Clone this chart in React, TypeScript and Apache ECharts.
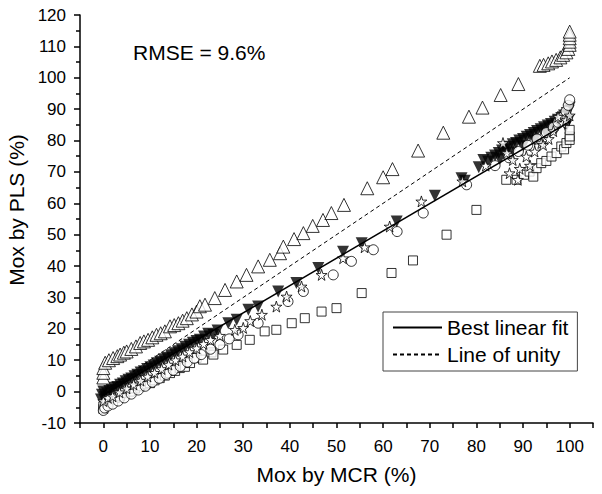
import React, { useEffect, useRef } from "react";
import * as echarts from "echarts";

// ---------- data ----------
const xRange = [-5, 105];
const yRange = [-10, 120];

const fitX = [0, 100];
const fitY = [-1, 86];
const unityX = [0, 100];
const unityY = [0, 100];

const triangleUp: number[][] = [
  [0, 4.5], [0, 6], [0, 7.5], [0.4, 9.2], [1.2, 10], [2.1, 10.7], [3, 11.3], [3.6, 11.8],
  [4.4, 12.4], [5, 12.8], [6, 13.6], [7, 14.4], [7.9, 15.5], [8.7, 16], [9.6, 16.5],
  [10.5, 17.3], [11.4, 18.1], [12.3, 18.6], [13.2, 19.2], [14.3, 20.8], [15.2, 21.2],
  [16.1, 21.8], [17, 22.6], [17.9, 23.4], [19, 24.6], [20, 25.5], [20.7, 27.2], [21.8, 27.7],
  [23.9, 29.8], [26.1, 32.4], [28.6, 35.1], [30.7, 37.2], [33.2, 39.9], [35.7, 42],
  [37.9, 44.1], [38.6, 46.2], [40.9, 48.6], [42.9, 50.5], [44.9, 52.8], [47.1, 54.7],
  [48.9, 56.9], [51.6, 59.5], [56.6, 64.8], [60, 68.3], [62, 70.9], [67.5, 76.8],
  [72.9, 82.5], [78.4, 87.6], [81.3, 90.5], [85.2, 94.5], [89, 98], [93.6, 103.8],
  [94.4, 104.1], [95.4, 104.6], [96.2, 105.2], [97.1, 105.7], [98, 106.5], [98.6, 107.3],
  [99.3, 108.1], [99.7, 109.2], [100, 110.5], [100, 111.5], [100, 112.6], [100, 113.7],
  [100, 114.7],
];

const triangleDownFilled: number[][] = [
  [-0.5, -2.5], [-0.3, -1], [0, 0], [0.3, -1.8], [0.8, -0.5], [1.3, 0.2], [1.8, 0.5],
  [2.4, 1.2], [3, 1.5], [3.6, 2.2], [4.2, 2.6], [4.8, 3.3], [5.4, 3.8], [6, 4.2],
  [6.7, 4.9], [7.3, 5.4], [8, 6.1], [8.7, 6.5], [9.4, 7.2], [10.1, 7.8], [10.8, 8.3],
  [11.5, 9], [12.2, 9.5], [13, 10.3], [13.7, 10.8], [14.5, 11.6], [15.3, 12.2], [16, 12.9],
  [16.8, 13.5], [17.6, 14.3], [18.4, 14.9], [19.2, 15.6], [20, 16.1], [20.7, 16.5],
  [21.6, 17.6], [22.5, 18.4], [23.6, 18.1], [24.5, 19.5], [26.8, 21.8], [28.6, 22.9],
  [31.1, 26.1], [33.2, 27.1], [37.5, 31.9], [41.4, 34.6], [46.1, 39.4], [51.4, 44.6],
  [55.4, 47.3], [62.9, 54.2], [71.1, 62.4], [76.8, 68], [77.5, 67.2], [80.5, 71.5],
  [81.5, 73.8], [82.5, 73.3], [83.2, 74.5], [84, 75.2], [84.8, 76], [85.5, 76.8],
  [86.2, 77.2], [87, 78], [87.8, 78.8], [88.5, 79.2], [89.2, 80], [90, 80.5], [90.8, 81.2],
  [91.5, 81.8], [92.3, 82.4], [93, 83], [93.8, 83.6], [94.5, 84.2], [95.3, 84.8], [96, 85.3],
  [96.8, 86], [97.5, 86.6], [98.2, 87.2], [98.8, 88], [99.4, 88.8], [99.8, 89.5], [100, 90.5],
  [99.2, 84.5], [99.8, 86.5], [97, 83.5], [95, 82], [92.5, 80], [90, 78.2], [87.5, 76.2],
  [85, 74],
];

const stars: number[][] = [
  [0, -3], [1, -2], [2, -1.5], [3.5, -0.2], [5, 1], [6.5, 2.3], [8, 3.5], [9.5, 4.8],
  [11, 6], [12.5, 7.2], [14, 8.6], [15.5, 10], [17, 11.2], [18.5, 12.6], [20, 13.8],
  [21.5, 15.2], [23, 16.5], [25, 17.8], [28.2, 19.7], [30, 20.3], [31.5, 22.5], [34, 24.5],
  [37.1, 27.1], [39.3, 30.3], [42.5, 33.5], [46.8, 37.2], [51.4, 42.5], [56, 46],
  [61.4, 52.6], [68.2, 60.6], [77, 67], [82, 72], [85.7, 79.2], [86.5, 76], [87.1, 69.6],
  [87.8, 73.8], [88.9, 67.5], [89.3, 71], [90.7, 74.9], [91.5, 72], [92.5, 76.5],
  [93.9, 79.2], [94.3, 78.6], [95.5, 80.5], [96.5, 83], [97.5, 87.6], [98.5, 85.5],
  [99.2, 86.5], [100, 88],
];

const circles: number[][] = [
  [0, -6], [0.3, -5.2], [1, -4.6], [2, -4], [3.2, -3], [4.5, -2], [6, -0.8], [7.5, 0.5],
  [9, 1.7], [10.5, 3], [12, 4.2], [13.5, 5.5], [15, 6.8], [16.5, 8], [18, 9.4], [19.5, 10.6],
  [21, 11.8], [23, 13.5], [25, 15], [27, 16.8], [28.9, 18.1], [33.2, 21.8], [39.6, 28.7],
  [42.9, 31.9], [49.3, 37.2], [53.2, 41.5], [57.9, 45.2], [63, 51], [68.6, 56.9],
  [77.9, 65.9], [84, 72], [87, 74.5], [89, 76.5], [91, 78.5], [93, 80.5], [95, 82.5],
  [96.5, 84.2], [97.5, 85.8], [98.5, 87.5], [99.2, 89.3], [99.7, 91.2], [100, 93],
];

const squares: number[][] = [
  [0, -5.5], [0, -4.7], [0.7, -3.5], [1.4, -2.6], [2.5, -2], [3.6, -1.5], [4.6, -0.5],
  [5.7, 0], [6.8, 1], [7.9, 1.7], [9, 2.3], [10, 2.7], [11, 3.6], [12.1, 4.3], [13.2, 5.1],
  [14.3, 5.9], [15.4, 6.6], [16.4, 7.5], [17.5, 7.9], [18.6, 9.1], [20, 10.7], [21.4, 10.2],
  [23.2, 12.5], [23.6, 11.8], [25.7, 13.4], [28.6, 14.9], [31.4, 16.5], [34.6, 19.2],
  [37.1, 19.7], [40.4, 21.8], [43.2, 23.4], [46.8, 25.5], [50, 26.6], [55.4, 31.4],
  [61.8, 37.8], [66.4, 41.8], [73.6, 50], [80, 57.9], [86.4, 67.5], [88.6, 67.5],
  [90.2, 69.1], [91.4, 70.1], [92.2, 68.5], [92.9, 71.2], [93.9, 72.8], [95, 73.5],
  [96.1, 74.9], [97.2, 76], [98.2, 78.1], [98.8, 77.2], [99.3, 79.2], [100, 80.2],
  [100, 81.3], [100, 83.4],
];

const rmseText = "RMSE = 9.6%";
const xTitle = "Mox by MCR (%)";
const yTitle = "Mox by PLS (%)";
const fitName = "Best linear fit";
const unityName = "Line of unity";

// ---------- chart ----------
const FONT = "'Liberation Sans', Arial, Helvetica, sans-serif";
const STAR =
  "path://M50 0 L61.2 34.5 L97.6 34.5 L68.2 55.9 L79.4 90.5 L50 69.1 L20.6 90.5 L31.8 55.9 L2.4 34.5 L38.8 34.5 Z";

const hollow = { color: "#fff", borderColor: "#000", borderWidth: 1 };
const axisLineStyle = { color: "#000", width: 1.5 };
const tenFormatter = (v: number) => (Math.round(v) % 10 === 0 ? String(Math.round(v)) : "");

export default function App() {
  const ref = useRef<HTMLDivElement>(null);

  useEffect(() => {
    if (!ref.current) return;
    const chart = echarts.init(ref.current, undefined, { renderer: "svg" });
    const zip = (xs: number[], ys: number[]) => xs.map((x, i) => [x, ys[i]]);

    chart.setOption({
      animation: false,
      backgroundColor: "#fff",
      textStyle: { fontFamily: FONT, color: "#000" },
      grid: { left: 80, right: 9, top: 15, bottom: 71, containLabel: false, outerBoundsMode: "none" },
      xAxis: {
        type: "value",
        min: xRange[0],
        max: xRange[1],
        interval: 5,
        name: xTitle,
        nameLocation: "middle",
        nameGap: 41,
        nameTextStyle: { fontSize: 21, color: "#000", fontFamily: FONT },
        axisLine: { show: true, onZero: false, lineStyle: axisLineStyle },
        axisTick: { show: true, inside: false, length: 5, lineStyle: axisLineStyle },
        axisLabel: { fontSize: 17, color: "#000", margin: 15, formatter: tenFormatter, fontFamily: FONT },
        splitLine: { show: false },
      },
      yAxis: {
        type: "value",
        min: yRange[0],
        max: yRange[1],
        interval: 10,
        name: yTitle,
        nameLocation: "middle",
        nameGap: 51,
        nameRotate: 90,
        nameTextStyle: { fontSize: 21, color: "#000", fontFamily: FONT, padding: [0, 0, 0, 18] },
        axisLine: { show: true, onZero: false, lineStyle: axisLineStyle },
        axisTick: { show: true, inside: false, length: 6, lineStyle: axisLineStyle },
        minorTick: { show: true, splitNumber: 2, length: 4, lineStyle: axisLineStyle },
        axisLabel: { fontSize: 17, color: "#000", margin: 14, formatter: tenFormatter, fontFamily: FONT },
        splitLine: { show: false },
        minorSplitLine: { show: false },
      },
      legend: {
        data: [fitName, unityName],
        orient: "vertical",
        left: 383,
        top: 312,
        padding: [5, 9, 6, 9],
        itemGap: 6,
        itemWidth: 49,
        itemHeight: 20,
        borderColor: "#444",
        borderWidth: 1,
        borderRadius: 0,
        backgroundColor: "#fff",
        selectedMode: false,
        itemStyle: { opacity: 0 },
        textStyle: { fontSize: 21, color: "#000", fontFamily: FONT },
      },
      graphic: [
        {
          type: "text",
          left: 133,
          top: 42,
          style: { text: rmseText, fontSize: 21, fill: "#000", fontFamily: FONT },
        },
      ],
      series: [
        {
          name: "Filled triangles",
          type: "scatter",
          data: triangleDownFilled,
          symbol: "triangle",
          symbolRotate: 180,
          symbolSize: 12,
          itemStyle: { color: "#000" },
          z: 2,
        },
        { name: "Squares", type: "scatter", data: squares, symbol: "rect", symbolSize: 9, itemStyle: hollow, z: 3 },
        { name: "Circles", type: "scatter", data: circles, symbol: "circle", symbolSize: 10, itemStyle: hollow, z: 3 },
        { name: "Stars", type: "scatter", data: stars, symbol: STAR, symbolSize: 11, itemStyle: hollow, z: 3 },
        { name: "Triangles", type: "scatter", data: triangleUp, symbol: "triangle", symbolSize: 13, itemStyle: hollow, z: 3 },
        {
          name: fitName,
          type: "line",
          data: zip(fitX, fitY),
          symbol: "none",
          lineStyle: { color: "#000", width: 1.5, type: "solid" },
          itemStyle: { color: "#000", opacity: 0 },
          z: 5,
        },
        {
          name: unityName,
          type: "line",
          data: zip(unityX, unityY),
          symbol: "none",
          lineStyle: { color: "#000", width: 1, type: [4, 3] },
          itemStyle: { color: "#000", opacity: 0 },
          z: 5,
        },
      ],
    });

    return () => chart.dispose();
  }, []);

  return (
    <div
      ref={ref}
      style={{ position: "fixed", left: 0, top: 0, width: 602, height: 494, background: "#fff" }}
    />
  );
}
